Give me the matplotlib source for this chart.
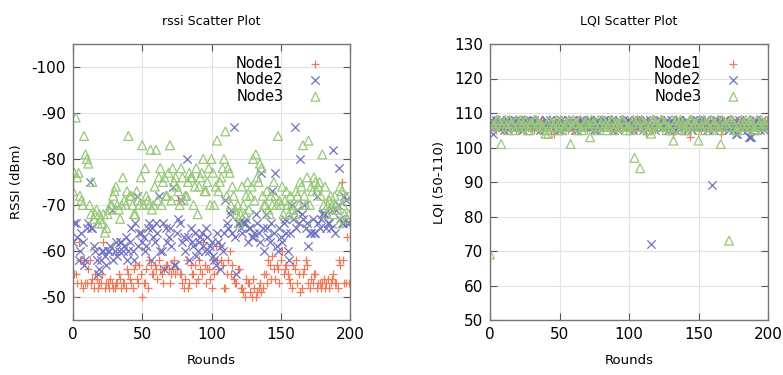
import matplotlib
matplotlib.use("Agg")
import matplotlib.pyplot as plt

plt.rcParams['axes.unicode_minus'] = False
plt.rcParams['font.family'] = ['DejaVu Sans']

rounds_a = list(range(0, 200, 2))
rounds_b = list(range(1, 200, 2))

rssi_node1_a = [-50, -55, -62, -53, -58, -53, -58, -54, -55, -52, -53, -62, -53, -52, -53, -52, -53, -54, -53, -52,
                -55, -53, -56, -54, -57, -50, -53, -52, -57, -55, -56, -58, -55, -56, -57, -53, -56, -55, -71, -55,
                -52, -58, -53, -55, -57, -54, -56, -62, -53, -56, -52, -55, -58, -61, -57, -52, -58, -55, -54, -53,
                -56, -52, -50, -53, -51, -54, -50, -52, -51, -55, -53, -57, -59, -54, -56, -58, -55, -57, -54, -52,
                -56, -53, -51, -55, -58, -53, -54, -55, -52, -53, -53, -52, -54, -53, -55, -53, -58, -75, -53, -63]
rssi_node1_b = [-55, -53, -58, -52, -53, -56, -53, -52, -54, -53, -55, -52, -53, -54, -52, -53, -55, -52, -53, -56,
                -54, -52, -57, -53, -55, -53, -56, -58, -55, -57, -54, -56, -53, -57, -56, -55, -58, -56, -55, -53,
                -54, -52, -57, -55, -53, -58, -55, -57, -56, -54, -58, -61, -56, -58, -52, -55, -60, -57, -53, -56,
                -52, -51, -54, -53, -50, -52, -51, -53, -52, -55, -58, -54, -56, -57, -53, -60, -56, -55, -53, -57,
                -58, -55, -52, -56, -57, -52, -53, -55, -53, -52, -54, -53, -52, -54, -53, -52, -57, -58, -53, -53]
rssi_node2_a = [-62, -66, -58, -64, -57, -65, -75, -65, -60, -55, -58, -60, -57, -60, -69, -60, -59, -62, -60, -63,
                -60, -65, -58, -72, -64, -62, -60, -65, -58, -63, -66, -72, -60, -56, -62, -65, -74, -57, -67, -71,
                -63, -80, -58, -62, -64, -60, -63, -61, -65, -60, -62, -58, -64, -56, -60, -71, -65, -69, -87, -55,
                -66, -64, -66, -62, -65, -63, -68, -64, -77, -60, -65, -62, -73, -77, -60, -63, -66, -64, -58, -70,
                -87, -69, -80, -67, -65, -61, -64, -64, -72, -65, -68, -68, -66, -65, -82, -69, -78, -66, -72, -66]
rssi_node2_b = [-66, -63, -60, -62, -58, -66, -65, -61, -58, -56, -60, -59, -60, -61, -58, -62, -60, -62, -61, -58,
                -62, -60, -66, -61, -64, -63, -61, -66, -65, -62, -64, -60, -66, -65, -63, -61, -57, -64, -66, -62,
                -60, -63, -65, -61, -59, -62, -64, -60, -63, -61, -59, -57, -62, -61, -64, -66, -68, -64, -63, -66,
                -65, -66, -67, -65, -63, -64, -66, -62, -65, -68, -63, -66, -64, -61, -65, -62, -67, -60, -64, -67,
                -65, -66, -68, -70, -66, -64, -67, -64, -66, -67, -68, -65, -66, -69, -64, -70, -67, -66, -71, -66]
rssi_node3_a = [-73, -89, -77, -71, -85, -80, -70, -75, -68, -66, -67, -68, -65, -69, -70, -73, -70, -67, -76, -70,
                -85, -72, -68, -73, -70, -83, -78, -71, -82, -70, -82, -76, -70, -76, -72, -83, -78, -76, -73, -78,
                -71, -72, -77, -76, -74, -68, -76, -80, -73, -78, -80, -70, -84, -75, -78, -86, -78, -70, -72, -68,
                -66, -74, -68, -75, -72, -80, -81, -75, -78, -70, -73, -68, -70, -72, -85, -70, -68, -73, -68, -70,
                -68, -72, -75, -83, -70, -84, -74, -76, -73, -75, -81, -74, -70, -72, -68, -70, -66, -73, -68, -67]
rssi_node3_b = [-77, -76, -72, -70, -81, -79, -68, -67, -69, -68, -66, -64, -68, -70, -72, -74, -69, -70, -71, -73,
                -72, -70, -68, -71, -76, -70, -72, -70, -69, -74, -71, -78, -75, -72, -77, -71, -75, -74, -70, -76,
                -72, -75, -76, -70, -78, -74, -77, -73, -75, -70, -77, -74, -73, -76, -80, -72, -77, -74, -69, -70,
                -68, -70, -72, -69, -74, -71, -76, -79, -72, -70, -69, -72, -75, -70, -71, -74, -71, -70, -72, -69,
                -73, -70, -74, -72, -76, -70, -73, -75, -74, -72, -70, -68, -71, -70, -72, -69, -74, -70, -72, -68]

lqi_node1_a = [106, 107, 105, 108, 106, 107, 106, 108, 107, 106, 105, 107, 108, 106, 107, 106, 105, 107, 106, 108,
               107, 106, 104, 104, 106, 107, 108, 106, 105, 107, 106, 108, 107, 106, 107, 105, 106, 108, 107, 106,
               107, 106, 108, 105, 107, 106, 107, 108, 106, 107, 106, 105, 107, 106, 108, 107, 104, 106, 105, 107,
               108, 106, 107, 106, 105, 107, 104, 106, 107, 106, 105, 107, 103, 108, 107, 106, 105, 107, 106, 108,
               107, 106, 106, 104, 108, 106, 107, 105, 106, 107, 108, 106, 107, 106, 105, 107, 108, 106, 107, 106]
lqi_node1_b = [107, 106, 108, 106, 105, 107, 108, 106, 107, 105, 108, 106, 107, 106, 108, 107, 106, 105, 108, 107,
               106, 107, 105, 108, 106, 107, 106, 108, 107, 106, 105, 107, 108, 106, 107, 106, 108, 105, 107, 106,
               108, 107, 106, 107, 105, 108, 106, 107, 106, 108, 107, 106, 105, 108, 107, 106, 108, 107, 106, 105,
               107, 108, 106, 107, 108, 106, 105, 107, 106, 108, 107, 106, 108, 105, 106, 107, 108, 106, 107, 105,
               106, 108, 107, 106, 105, 107, 106, 108, 107, 106, 108, 105, 107, 106, 108, 107, 106, 105, 107, 108]
lqi_node2_a = [107, 104, 108, 106, 107, 105, 108, 107, 106, 108, 107, 106, 105, 108, 107, 106, 108, 107, 105, 106,
               108, 107, 106, 107, 108, 105, 107, 106, 108, 107, 106, 105, 107, 108, 106, 107, 108, 106, 105, 107,
               106, 108, 107, 106, 108, 107, 105, 106, 108, 107, 106, 107, 108, 106, 107, 105, 108, 107, 72, 106,
               107, 108, 106, 107, 105, 108, 107, 106, 108, 107, 106, 105, 107, 108, 106, 107, 108, 106, 105, 107,
               89, 108, 107, 106, 108, 107, 105, 106, 108, 104, 106, 107, 108, 103, 103, 107, 106, 105, 108, 106]
lqi_node2_b = [108, 106, 107, 108, 106, 107, 105, 108, 107, 106, 108, 105, 107, 106, 108, 107, 106, 108, 107, 105,
               106, 108, 107, 106, 105, 108, 107, 106, 107, 108, 105, 106, 108, 107, 106, 108, 107, 105, 108, 106,
               107, 106, 108, 107, 105, 106, 108, 107, 106, 108, 107, 105, 106, 108, 107, 106, 107, 108, 106, 105,
               108, 107, 106, 108, 107, 106, 105, 108, 107, 106, 108, 107, 105, 106, 108, 107, 106, 108, 107, 106,
               105, 108, 107, 106, 108, 106, 107, 105, 104, 108, 106, 107, 105, 103, 106, 108, 107, 106, 105, 107]
lqi_node3_a = [69, 106, 107, 108, 101, 107, 106, 108, 107, 105, 106, 108, 107, 106, 105, 107, 108, 106, 107, 106,
               104, 104, 107, 106, 108, 107, 105, 106, 107, 101, 108, 107, 106, 105, 107, 108, 103, 107, 106, 108,
               107, 106, 105, 107, 108, 106, 107, 106, 108, 105, 106, 107, 97, 108, 94, 106, 107, 105, 104, 108,
               107, 106, 108, 107, 106, 105, 102, 108, 107, 106, 105, 107, 108, 106, 107, 102, 106, 108, 107, 105,
               106, 107, 108, 101, 106, 107, 73, 108, 106, 105, 107, 106, 108, 107, 106, 105, 108, 107, 106, 107]
lqi_node3_b = [107, 106, 108, 107, 106, 108, 105, 107, 106, 108, 107, 106, 108, 105, 107, 106, 108, 107, 106, 105,
               107, 108, 106, 107, 105, 108, 106, 107, 108, 106, 107, 105, 108, 106, 107, 106, 108, 107, 105, 106,
               108, 107, 106, 108, 105, 107, 106, 108, 107, 106, 105, 108, 107, 106, 108, 107, 105, 106, 108, 107,
               106, 108, 107, 105, 106, 108, 107, 106, 108, 107, 105, 106, 108, 107, 106, 108, 105, 107, 106, 108,
               107, 106, 105, 108, 107, 106, 108, 107, 105, 106, 108, 107, 106, 108, 107, 105, 106, 108, 107, 106]

c1 = '#ee7a5a'
c2 = '#7272c4'
c3 = '#98c878'

fig = plt.figure(figsize=(7.83, 3.75), dpi=100)
ax1 = fig.add_axes([73 / 783, 1 - 320 / 375, 277 / 783, 276 / 375])
ax2 = fig.add_axes([490 / 783, 1 - 320 / 375, 278 / 783, 276 / 375])


def style(ax):
    ax.grid(True, color='#e2e2e2', linewidth=0.8)
    ax.set_axisbelow(True)
    ax.tick_params(direction='in', top=True, right=True, length=5, color='#555555',
                   labelsize=11, pad=5)
    for s in ax.spines.values():
        s.set_color('#777777')
        s.set_linewidth(1.0)
    ax.set_xlim(0, 200)
    ax.set_xticks([0, 50, 100, 150, 200])


def draw(ax, n1a, n1b, n2a, n2b, n3a, n3b):
    kw1 = dict(marker='+', s=40, color=c1, linewidths=0.9)
    kw2 = dict(marker='x', s=36, color=c2, linewidths=0.9)
    kw3 = dict(marker='^', s=40, facecolors='none', edgecolors=c3, linewidths=0.9)
    ax.scatter(rounds_a, n1a, label='Node1', **kw1)
    ax.scatter(rounds_b, n1b, **kw1)
    ax.scatter(rounds_a, n2a, label='Node2', **kw2)
    ax.scatter(rounds_b, n2b, **kw2)
    ax.scatter(rounds_a, n3a, label='Node3', **kw3)
    ax.scatter(rounds_b, n3b, **kw3)
    ax.legend(loc='upper right', frameon=False, markerfirst=False, fontsize=10.5,
              handletextpad=1.2, labelspacing=0.1, borderaxespad=0.4,
              bbox_to_anchor=(0.97, 1.0))


draw(ax1, rssi_node1_a, rssi_node1_b, rssi_node2_a, rssi_node2_b, rssi_node3_a, rssi_node3_b)
style(ax1)
ax1.set_ylim(-45, -105)
ax1.set_yticks([-50, -60, -70, -80, -90, -100])
ax1.set_title('rssi Scatter Plot', fontsize=9, pad=14)
ax1.set_xlabel('Rounds', fontsize=9.5, labelpad=9)
ax1.set_ylabel('RSSI (dBm)', fontsize=9.5, labelpad=6)

draw(ax2, lqi_node1_a, lqi_node1_b, lqi_node2_a, lqi_node2_b, lqi_node3_a, lqi_node3_b)
style(ax2)
ax2.set_ylim(50, 130)
ax2.set_yticks([50, 60, 70, 80, 90, 100, 110, 120, 130])
ax2.set_title('LQI Scatter Plot', fontsize=9, pad=14)
ax2.set_xlabel('Rounds', fontsize=9.5, labelpad=9)
ax2.set_ylabel('LQI (50-110)', fontsize=9.5, labelpad=6)

fig.savefig('out.png', dpi=100)
